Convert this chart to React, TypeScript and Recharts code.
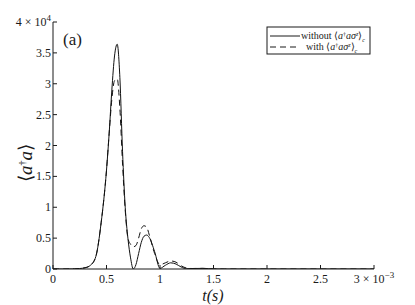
import React from "react";
import { LineChart, Line, XAxis, YAxis } from "recharts";

// time in units of 1e-3 s
const times = [
  0, 0.1, 0.2, 0.25, 0.3, 0.35, 0.4, 0.45, 0.5, 0.525, 0.55, 0.575, 0.6, 0.625, 0.65, 0.675, 0.7,
  0.725, 0.75, 0.775, 0.8, 0.825, 0.85, 0.875, 0.9, 0.95, 1.0, 1.05, 1.1, 1.15, 1.2, 1.25, 1.3, 1.4,
  1.5, 1.6, 2, 2.5, 3,
];
const withoutCorr = [
  0, 0, 20, 80, 200, 600, 2000, 7500, 16000, 22000, 29000, 34500, 36400, 31000, 19000, 10000, 5000,
  1800, 0, 700, 2500, 4300, 5300, 5500, 5100, 2800, 100, 600, 1000, 800, 300, 50, 80, 100,
  20, 0, 0, 0, 0,
];
const withCorr = [
  0, 0, 20, 80, 200, 600, 2000, 7500, 16000, 22000, 27500, 30500, 30800, 26000, 17000, 9500, 5000,
  4000, 3600, 3800, 5000, 6500, 7000, 6800, 5500, 2500, 700, 1000, 1300, 1100, 500, 150, 80, 100,
  20, 0, 0, 0, 0,
];
const xTicks = [0, 0.5, 1, 1.5, 2, 2.5, 3];
const yTicks = [0, 5000, 10000, 15000, 20000, 25000, 30000, 35000, 40000];

const data = times.map((t, i) => ({ t, without: withoutCorr[i], with: withCorr[i] }));

const FONT = "'Liberation Serif'";
const INK = "#1a1a1a";
const txt = { fontFamily: FONT };

function BottomTick(props: any) {
  const { x, y, payload } = props;
  const v = payload.value;
  return (
    <g>
      <line x1={x} y1={y} x2={x} y2={y - 4} stroke={INK} />
      <text x={x} y={y + 14} textAnchor="middle" style={txt} fontSize={12} fill={INK}>
        {v}
        {v === 3 ? (
          <>
            <tspan> × 10</tspan>
            <tspan dy={-5} fontSize={9}>−3</tspan>
          </>
        ) : null}
      </text>
    </g>
  );
}

function TopTick(props: any) {
  const { x, y } = props;
  return <line x1={x} y1={y} x2={x} y2={y + 4} stroke={INK} />;
}

function LeftTick(props: any) {
  const { x, y, payload } = props;
  const v = payload.value;
  return (
    <g>
      <line x1={x} y1={y} x2={x + 4} y2={y} stroke={INK} />
      <text x={x - 2} y={y + 4} textAnchor="end" style={txt} fontSize={12} fill={INK}>
        {v === 40000 ? (
          <>
            4 × 10<tspan dy={-5} fontSize={9}>4</tspan>
          </>
        ) : (
          v / 10000
        )}
      </text>
    </g>
  );
}

function RightTick(props: any) {
  const { x, y } = props;
  return <line x1={x} y1={y} x2={x - 4} y2={y} stroke={INK} />;
}

export default function App() {
  return (
    <div style={{ position: "absolute", left: 0, top: 0, width: 415, height: 305, background: "#fff" }}>
      <LineChart width={415} height={305} data={data} margin={{ top: 22, right: 41, bottom: 0, left: 0 }}>
        <XAxis
          dataKey="t"
          type="number"
          domain={[0, 3]}
          ticks={xTicks}
          height={36}
          tickSize={0}
          tickMargin={0}
          tickLine={false}
          tick={<BottomTick />}
          axisLine={{ stroke: INK }}
          allowDataOverflow
        />
        <XAxis
          xAxisId="top"
          orientation="top"
          dataKey="t"
          type="number"
          domain={[0, 3]}
          ticks={xTicks}
          height={0}
          tickSize={0}
          tickMargin={0}
          tickLine={false}
          tick={<TopTick />}
          axisLine={{ stroke: INK }}
        />
        <YAxis
          type="number"
          domain={[0, 40000]}
          ticks={yTicks}
          width={53}
          tickSize={0}
          tickMargin={0}
          tickLine={false}
          tick={<LeftTick />}
          axisLine={{ stroke: INK }}
          allowDataOverflow
        />
        <YAxis
          yAxisId="right"
          orientation="right"
          type="number"
          domain={[0, 40000]}
          ticks={yTicks}
          width={0}
          tickSize={0}
          tickMargin={0}
          tickLine={false}
          tick={<RightTick />}
          axisLine={{ stroke: INK }}
        />
        <Line
          dataKey="without"
          type="monotone"
          stroke="#111"
          strokeWidth={1}
          dot={false}
          isAnimationActive={false}
        />
        <Line
          dataKey="with"
          type="monotone"
          stroke="#111"
          strokeWidth={1}
          strokeDasharray="6 4"
          dot={false}
          isAnimationActive={false}
        />
      </LineChart>
      <svg
        width={415}
        height={305}
        style={{ position: "absolute", left: 0, top: 0, pointerEvents: "none", fontFamily: FONT }}
        fill={INK}
      >
        <text x={63} y={45} fontSize={17} style={txt}>(a)</text>
        <text x={213} y={301} fontSize={16} textAnchor="middle" fontStyle="italic" style={txt}>
          t(s)
        </text>
        <text
          x={0}
          y={0}
          fontSize={19}
          textAnchor="middle"
          style={txt}
          transform="translate(32 163) rotate(-90)"
        >
          ⟨<tspan fontStyle="italic">a</tspan>
          <tspan dy={-6} fontSize={10}>†</tspan>
          <tspan dy={6} fontStyle="italic">a</tspan>⟩
        </text>
        <rect x={267} y={27} width={103} height={27} fill="#fff" stroke={INK} strokeWidth={1} />
        <line x1={270} y1={36} x2={300} y2={36} stroke={INK} />
        <line x1={270} y1={47} x2={300} y2={47} stroke={INK} strokeDasharray="6 4" />
        <text x={301} y={39} fontSize={10} style={txt}>
          without ⟨<tspan fontStyle="italic">a</tspan>
          <tspan dy={-3} fontSize={6}>†</tspan>
          <tspan dy={3} fontStyle="italic">aσ</tspan>
          <tspan dy={-3} fontSize={6} fontStyle="italic">z</tspan>
          <tspan dy={3}>⟩</tspan>
          <tspan dy={3} fontSize={6} fontStyle="italic">c</tspan>
        </text>
        <text x={306} y={50} fontSize={10} style={txt}>
          with ⟨<tspan fontStyle="italic">a</tspan>
          <tspan dy={-3} fontSize={6}>†</tspan>
          <tspan dy={3} fontStyle="italic">aσ</tspan>
          <tspan dy={-3} fontSize={6} fontStyle="italic">z</tspan>
          <tspan dy={3}>⟩</tspan>
          <tspan dy={3} fontSize={6} fontStyle="italic">c</tspan>
        </text>
      </svg>
    </div>
  );
}
